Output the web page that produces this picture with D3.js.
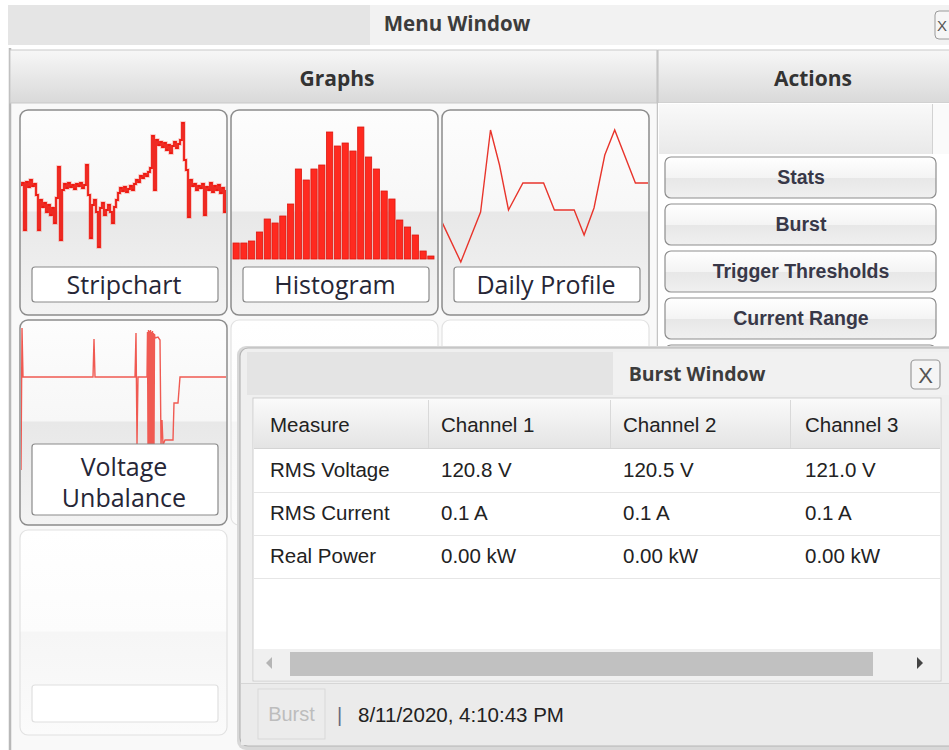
<!DOCTYPE html>
<html><head><meta charset="utf-8">
<script src="https://cdn.jsdelivr.net/npm/d3@7"></script>
<style>html,body{margin:0;padding:0;background:#fff;overflow:hidden}</style>
</head><body><svg id="c" width="949" height="750"></svg>
<script>
// ---------------- DATA ----------------
const tileLabels = ["Stripchart", "Histogram", "Daily Profile", ["Voltage", "Unbalance"]];
const actionButtons = ["Stats", "Burst", "Trigger Thresholds", "Current Range"];

const histogramCounts = [16,16,18,27,40,36,43,55,90,79,90,94,127,113,116,108,132,102,90,68,60,39,32,24,8,3];

const stripValues = [
  75,77,30,78,73,80,74,76,65,30,
  60,53,57,48,55,45,52,37,62,93,
  20,70,76,72,77,73,75,71,76,74,
  77,72,75,95,65,22,55,60,48,13,
  52,57,45,50,55,48,37,53,60,67,
  72,69,73,68,71,74,70,76,80,78,
  84,82,86,84,88,92,124,70,120,115,
  118,113,117,110,115,107,114,118,112,116,
  120,137,100,90,43,80,74,76,70,74,
  72,76,45,73,70,77,68,74,70,75,
  67,72,48,70
];

const profileHours  = [0, 2.2, 3.3, 4.4, 5.5, 6.5, 7.5, 9.1, 11.4, 12.6, 14.8, 15.9, 17.0, 18.2, 19.3, 21.6, 23];
const profileValues = [50, 8, 33, 58, 140, 105, 60, 87, 87, 60, 60, 35, 62, 115, 140, 87, 87];

const unbalanceTimes  = [0,1,2,72,73,74,114,115,116,117,126,126.5,127,127.5,128,128.5,129,129.5,130,130.5,131,131.5,132,132.5,133,133.5,134,137,139,140,141,142,144,152,153,157,159,205];
const unbalanceValues = [-25,117,68,68,106,68,68,112,0,68,68,113,0,115,0,114,0,115,0,113,0,114,0,112,0,111,107,108,105,0,25,0,5,5,42,42,68,68];

const tableColumns = ["Measure", "Channel 1", "Channel 2", "Channel 3"];
const tableRows = [
  ["RMS Voltage", "120.8 V", "120.5 V", "121.0 V"],
  ["RMS Current", "0.1 A", "0.1 A", "0.1 A"],
  ["Real Power", "0.00 kW", "0.00 kW", "0.00 kW"]
];
const burstTimestamp = "8/11/2020, 4:10:43 PM";

// ---------------- DRAW ----------------
const svg = d3.select("#c");
const defs = svg.append("defs");
function vgrad(id, stops) {
  const g = defs.append("linearGradient").attr("id", id).attr("x1",0).attr("y1",0).attr("x2",0).attr("y2",1);
  stops.forEach(s => g.append("stop").attr("offset", s[0]).attr("stop-color", s[1]));
}
vgrad("tileGrad", [[0,"#fdfdfd"],[0.49,"#f7f7f7"],[0.5,"#e8e8e8"],[1,"#f3f3f3"]]);
vgrad("faintGrad", [[0,"#ffffff"],[0.49,"#fcfcfc"],[0.5,"#f6f6f6"],[1,"#fbfbfb"]]);
vgrad("headGrad", [[0,"#f7f7f7"],[1,"#d9d9d9"]]);
vgrad("subGrad", [[0,"#f9f9f9"],[1,"#e9e9e9"]]);
vgrad("btnGrad", [[0,"#ffffff"],[0.5,"#f4f4f4"],[0.51,"#e7e7e7"],[1,"#f0f0f0"]]);
vgrad("thGrad", [[0,"#fafafa"],[1,"#e4e4e4"]]);

const FONT_UI = "'Open Sans', 'Noto Sans', sans-serif";
const FONT_AR = "'Liberation Sans', Arial, sans-serif";

// Menu window title bar
svg.append("rect").attr("x",8).attr("y",5).attr("width",941).attr("height",40).attr("fill","#f2f2f2");
svg.append("rect").attr("x",8).attr("y",5).attr("width",362).attr("height",40).attr("fill","#e5e5e5");
svg.append("text").attr("x",457).attr("y",31).attr("text-anchor","middle")
  .attr("font-family",FONT_UI).attr("font-weight",700).attr("font-size",20.5).attr("fill","#3c3c3c").text("Menu Window");
svg.append("rect").attr("x",935).attr("y",11).attr("width",24).attr("height",28).attr("rx",4)
  .attr("fill","#f6f6f6").attr("stroke","#9a9a9a");
svg.append("text").attr("x",937).attr("y",31).attr("font-family",FONT_AR).attr("font-size",15).attr("fill","#555").text("X");

// Graph panel background
svg.append("rect").attr("x",10).attr("y",103).attr("width",647).attr("height",647).attr("fill","#f9f9f9");
svg.append("line").attr("x1",10).attr("x2",10).attr("y1",48).attr("y2",750).attr("stroke","#b8b8b8").attr("stroke-width",2.5);

// Headers
svg.append("rect").attr("x",10).attr("y",50).attr("width",647).attr("height",53).attr("fill","url(#headGrad)").attr("stroke","#c9c9c9");
svg.append("rect").attr("x",658).attr("y",50).attr("width",295).attr("height",53).attr("fill","url(#headGrad)").attr("stroke","#c9c9c9");
svg.append("text").attr("x",337).attr("y",86).attr("text-anchor","middle").attr("font-family",FONT_UI)
  .attr("font-weight",700).attr("font-size",21).attr("fill","#333").text("Graphs");
svg.append("text").attr("x",813).attr("y",86).attr("text-anchor","middle").attr("font-family",FONT_UI)
  .attr("font-weight",700).attr("font-size",21).attr("fill","#333").text("Actions");
svg.append("line").attr("x1",657.5).attr("x2",657.5).attr("y1",50).attr("y2",750).attr("stroke","#c4c4c4").attr("stroke-width",1.5);

// Actions panel
svg.append("rect").attr("x",658).attr("y",103).attr("width",291).attr("height",250).attr("fill","#ffffff");
svg.append("rect").attr("x",659).attr("y",104).attr("width",274).attr("height",50).attr("fill","url(#subGrad)");
svg.append("rect").attr("x",933).attr("y",104).attr("width",16).attr("height",50).attr("fill","#fafafa");
svg.append("line").attr("x1",932.5).attr("x2",932.5).attr("y1",104).attr("y2",154).attr("stroke","#d2d2d2");
const btnY = [157, 204, 251, 298, 345];
btnY.forEach((y, i) => {
  svg.append("rect").attr("x",665).attr("y",y).attr("width",271).attr("height",41).attr("rx",6)
    .attr("fill","url(#btnGrad)").attr("stroke","#8e8e8e").attr("stroke-width",1.2);
  if (i < actionButtons.length) {
    svg.append("text").attr("x",801).attr("y",y+27).attr("text-anchor","middle").attr("font-family",FONT_AR)
      .attr("font-weight",700).attr("font-size",19.5).attr("fill","#383848").text(actionButtons[i]);
  }
});

// Tiles
const colX = [20, 231, 442], rowY = [110, 320, 530], TW = 207, TH = 205;
function tile(x, y, faint) {
  svg.append("rect").attr("x",x).attr("y",y).attr("width",TW).attr("height",TH).attr("rx",8)
    .attr("fill", faint ? "url(#faintGrad)" : "url(#tileGrad)")
    .attr("stroke", faint ? "#e2e2e2" : "#8c8c8c").attr("stroke-width", faint ? 1.2 : 1.5);
}
function clip(id, x, y) {
  defs.append("clipPath").attr("id", id).append("rect").attr("x",x+1).attr("y",y+1).attr("width",TW-2).attr("height",TH-2).attr("rx",7);
}
function labelBox(x, y, h, lines, faint) {
  svg.append("rect").attr("x",x+12).attr("y",y).attr("width",186).attr("height",h).attr("rx",3)
    .attr("fill","#fff").attr("stroke", faint ? "#e0e0e0" : "#8a8a8a").attr("stroke-width",1.2);
  lines.forEach((t, i) => {
    svg.append("text").attr("x", x+104).attr("y", y + (lines.length === 1 ? 27 : 32 + i*31))
      .attr("text-anchor","middle").attr("font-family",FONT_UI).attr("font-size",25).attr("fill","#262636").text(t);
  });
}
tile(colX[1], rowY[1], true); tile(colX[2], rowY[1], true); tile(colX[0], rowY[2], true);
labelBox(colX[0], 685, 37, [], true);
[[0,0],[1,0],[2,0],[0,1]].forEach(([c,r]) => tile(colX[c], rowY[r], false));
clip("clipA", colX[0], rowY[0]); clip("clipB", colX[1], rowY[0]); clip("clipC", colX[2], rowY[0]); clip("clipD", colX[0], rowY[1]);

// Stripchart
{
  const x = d3.scaleLinear().domain([0, stripValues.length - 1]).range([20, 226]);
  const y = d3.scaleLinear().domain([0, 140]).range([260, 120]);
  const line = d3.line().x((d,i) => x(i)).y(d => y(d)).curve(d3.curveStepAfter);
  const g = svg.append("g").attr("clip-path","url(#clipA)");
  g.append("path").datum(stripValues).attr("d", line).attr("fill","none").attr("stroke","#f23b30").attr("stroke-width",3.5).attr("opacity",0.3);
  g.append("path").datum(stripValues).attr("d", line).attr("fill","none").attr("stroke","#ee1a12").attr("stroke-width",1.8);
}
// Histogram
{
  const x = d3.scaleBand().domain(d3.range(histogramCounts.length)).range([233, 434]).paddingInner(0.2);
  const y = d3.scaleLinear().domain([0, 132]).range([259, 127]);
  const g = svg.append("g").attr("clip-path","url(#clipB)");
  g.selectAll("rect").data(histogramCounts).join("rect")
    .attr("x",(d,i)=>x(i)).attr("width",x.bandwidth()).attr("y",d=>y(d)).attr("height",d=>y(0)-y(d))
    .attr("fill","#ff2a20").attr("stroke","#dd1810").attr("stroke-width",0.8);
}
// Daily profile
{
  const x = d3.scaleLinear().domain([0, 23]).range([441, 648]);
  const y = d3.scaleLinear().domain([0, 140]).range([270, 130]);
  const line = d3.line().x((d,i) => x(profileHours[i])).y(d => y(d));
  svg.append("g").attr("clip-path","url(#clipC)").append("path").datum(profileValues).attr("d", line)
    .attr("fill","none").attr("stroke","#e8352c").attr("stroke-width",1.4);
}
// Voltage unbalance
{
  const x = d3.scaleLinear().domain([0, 205]).range([21, 226]);
  const y = d3.scaleLinear().domain([0, 120]).range([445, 325]);
  const line = d3.line().x((d,i) => x(unbalanceTimes[i])).y(d => y(d));
  svg.append("g").attr("clip-path","url(#clipD)").append("path").datum(unbalanceValues).attr("d", line)
    .attr("fill","none").attr("stroke","#f05a52").attr("stroke-width",1.4);
}
labelBox(colX[0], 267, 35, [tileLabels[0]]);
labelBox(colX[1], 267, 35, [tileLabels[1]]);
labelBox(colX[2], 267, 35, [tileLabels[2]]);
labelBox(colX[0], 444, 71, tileLabels[3]);

// Burst window
const bw = svg.append("g");
bw.append("rect").attr("x",237).attr("y",346).attr("width",730).attr("height",404).attr("rx",9).attr("fill","#d8d8d8");
bw.append("rect").attr("x",240).attr("y",348).attr("width",725).attr("height",398).attr("rx",8)
  .attr("fill","#efefef").attr("stroke","#b4b4b4").attr("stroke-width",1.2);
bw.append("rect").attr("x",247).attr("y",352).attr("width",702).attr("height",43).attr("fill","#f1f1f1");
bw.append("rect").attr("x",247).attr("y",352).attr("width",366).attr("height",43).attr("fill","#e4e4e4");
bw.append("text").attr("x",697).attr("y",381).attr("text-anchor","middle").attr("font-family",FONT_UI)
  .attr("font-weight",700).attr("font-size",19.5).attr("fill","#3c3c3c").text("Burst Window");
bw.append("rect").attr("x",911).attr("y",360).attr("width",29).attr("height",29).attr("rx",4)
  .attr("fill","#f5f5f5").attr("stroke","#9a9a9a").attr("stroke-width",1.2);
bw.append("text").attr("x",925.5).attr("y",383).attr("text-anchor","middle").attr("font-family",FONT_AR)
  .attr("font-size",22).attr("fill","#555").text("X");

// Table
const colTextX = [270, 441, 623, 805], colEdges = [428, 610, 790];
bw.append("rect").attr("x",253).attr("y",398).attr("width",688).attr("height",283).attr("fill","#fff").attr("stroke","#cdcdcd");
bw.append("rect").attr("x",254).attr("y",399).attr("width",686).attr("height",49).attr("fill","url(#thGrad)");
bw.append("line").attr("x1",254).attr("x2",940).attr("y1",448.5).attr("y2",448.5).attr("stroke","#d4d4d4");
colEdges.forEach(cx => bw.append("line").attr("x1",cx+0.5).attr("x2",cx+0.5).attr("y1",400).attr("y2",448).attr("stroke","#d9d9d9"));
tableColumns.forEach((t,i) => bw.append("text").attr("x",colTextX[i]).attr("y",432).attr("font-family",FONT_AR)
  .attr("font-size",20.5).attr("fill","#222").text(t));
tableRows.forEach((row, r) => {
  const cy = 470 + r*43;
  bw.append("line").attr("x1",254).attr("x2",940).attr("y1",cy+22.5).attr("y2",cy+22.5).attr("stroke","#e6e6e6");
  row.forEach((t,i) => bw.append("text").attr("x",colTextX[i]).attr("y",cy+7).attr("font-family",FONT_AR)
    .attr("font-size",20.5).attr("fill","#222").text(t));
});
// Scrollbar
bw.append("rect").attr("x",254).attr("y",649).attr("width",686).attr("height",31).attr("fill","#f0f0f0");
bw.append("rect").attr("x",290).attr("y",652).attr("width",583).attr("height",24).attr("fill","#c1c1c1");
bw.append("path").attr("d","M272,657 L266,663 L272,669 Z").attr("fill","#b5b5b5");
bw.append("path").attr("d","M917,657 L923,663 L917,669 Z").attr("fill","#444");
// Footer
bw.append("rect").attr("x",241).attr("y",683).attr("width",708).attr("height",62).attr("fill","#ebebeb");
bw.append("line").attr("x1",241).attr("x2",949).attr("y1",683.5).attr("y2",683.5).attr("stroke","#d6d6d6");
bw.append("rect").attr("x",258).attr("y",689).attr("width",67).attr("height",50).attr("fill","#ececec").attr("stroke","#d9d9d9");
bw.append("text").attr("x",291.5).attr("y",721).attr("text-anchor","middle").attr("font-family",FONT_AR)
  .attr("font-size",20).attr("fill","#bdbdbd").text("Burst");
bw.append("text").attr("x",337).attr("y",722).attr("font-family",FONT_AR).attr("font-size",20).attr("fill","#666a80").text("|");
bw.append("text").attr("x",358).attr("y",722).attr("font-family",FONT_AR).attr("font-size",20.5).attr("fill","#222").text(burstTimestamp);
</script></body></html>
